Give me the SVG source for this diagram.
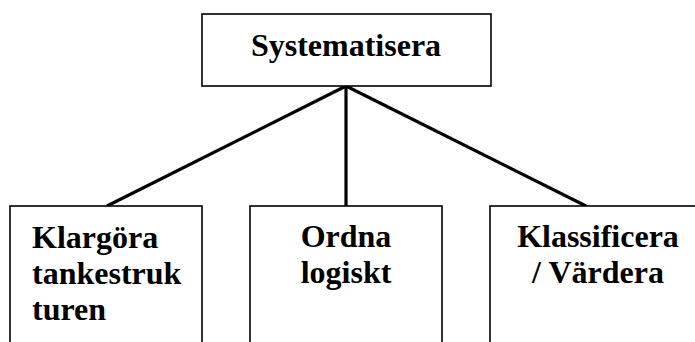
<svg xmlns="http://www.w3.org/2000/svg" width="695" height="342" viewBox="0 0 695 342">
<style>
.box{fill:#fff;stroke:#000;stroke-width:1.6}
.lbl{font-family:"Liberation Serif","Times New Roman",serif;font-weight:bold;font-size:32px;fill:#000}
.c{text-anchor:middle}
.conn{stroke:#000;stroke-width:3.2;fill:none}
</style>
<rect width="695" height="342" fill="#fff"/>
<g id="connectors">
<line class="conn" x1="346" y1="86" x2="107" y2="206"/>
<line class="conn" x1="346" y1="86" x2="346" y2="206"/>
<line class="conn" x1="346" y1="86" x2="586" y2="206"/>
</g>
<g id="node-systematisera">
<rect class="box" x="202" y="14" width="289" height="72"/>
<text class="lbl c" x="346" y="56">Systematisera</text>
</g>
<g id="node-klargora">
<rect class="box" x="10" y="206" width="192" height="150"/>
<text class="lbl" x="32" y="248">Klargöra</text>
<text class="lbl" x="32" y="284">tankestruk</text>
<text class="lbl" x="32" y="320">turen</text>
</g>
<g id="node-ordna">
<rect class="box" x="250" y="206" width="192" height="150"/>
<text class="lbl c" x="346" y="247">Ordna</text>
<text class="lbl c" x="346" y="283">logiskt</text>
</g>
<g id="node-klassificera">
<rect class="box" x="490" y="206" width="230" height="150"/>
<text class="lbl c" x="598" y="247">Klassificera</text>
<text class="lbl c" x="598" y="283">/ Värdera</text>
</g>
</svg>
